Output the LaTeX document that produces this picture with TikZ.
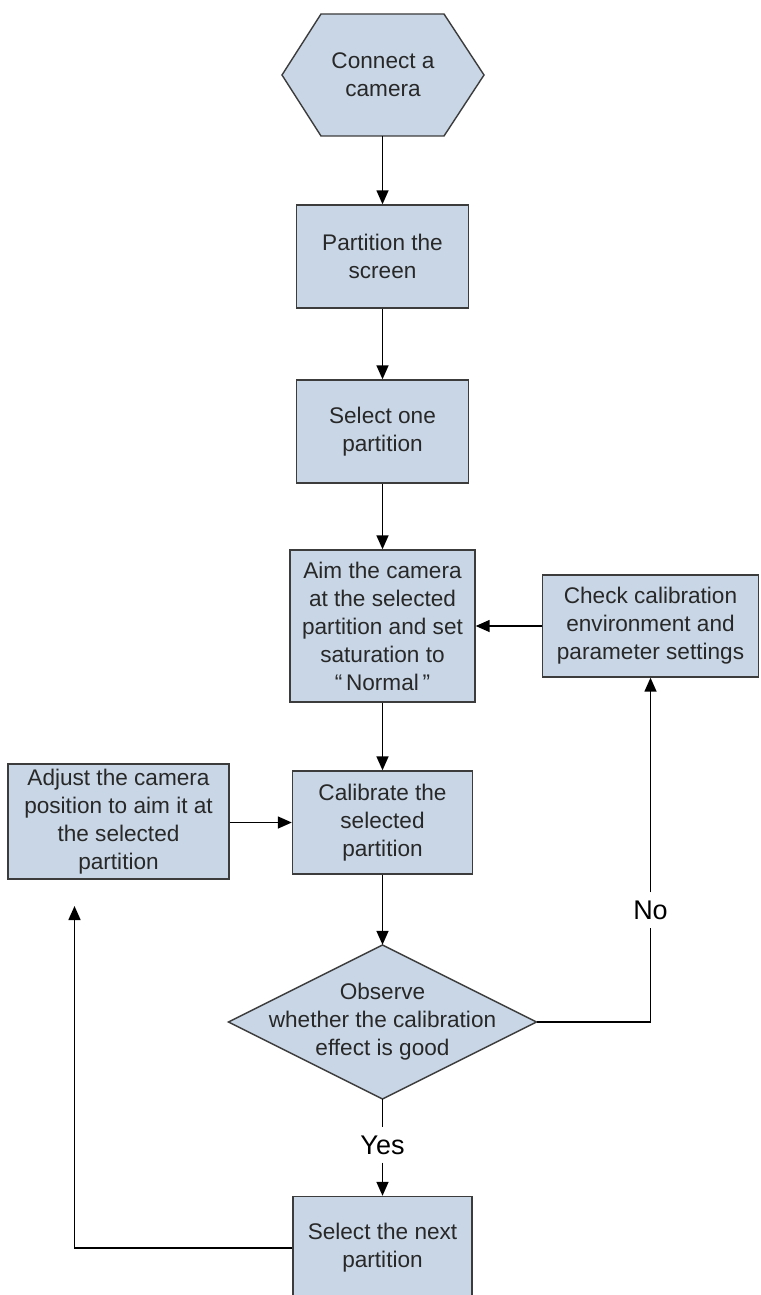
\documentclass[tikz,border=0pt]{standalone}
\usepackage{fontspec}
\setmainfont{Liberation Sans}
\usetikzlibrary{arrows.meta,calc}
\definecolor{boxfill}{RGB}{200,214,230}
\definecolor{boxline}{RGB}{60,60,60}
\definecolor{txt}{RGB}{40,40,40}
\begin{document}
\begin{tikzpicture}[x=1pt,y=-1pt,
  every node/.style={font=\fontsize{22.6}{28}\selectfont, text=txt},
  stepbox/.style={rectangle, draw=boxline, fill=boxfill, line width=1.4pt, align=center, inner sep=0pt},
  shapebox/.style={draw=boxline, fill=boxfill, line width=1.4pt},
  textarea/.style={rectangle, align=center, inner sep=0pt},
  lbl/.style={font=\fontsize{27}{30}\selectfont, text=black, inner sep=0pt, minimum height=35pt},
  conn/.style={line width=1.5pt, -{Triangle[width=12pt,length=14pt]}},
  plainline/.style={line width=1.5pt}
]
\useasboundingbox (0,0) rectangle (760,1295);
\clip (0,0) rectangle (760,1295);
\fill[white] (0,0) rectangle (760,1295);

% hexagon
\path[shapebox] (282,75) -- (321,14) -- (444,14) -- (484,75) -- (444,136) -- (321,136) -- cycle;
\node[textarea, minimum width=202pt, minimum height=122pt] (hex) at (383,75) {Connect a\\camera};

\node[stepbox, minimum width=172pt, minimum height=103pt] (part) at (382.5,256.5) {Partition the\\screen};
\node[stepbox, minimum width=172pt, minimum height=103pt] (sel) at (382.5,431.5) {Select one\\partition};
\node[stepbox, minimum width=185pt, minimum height=152pt] (aim) at (382.5,626) {Aim the camera\\at the selected\\partition and set\\saturation to\\“\,Normal\,”};
\node[stepbox, minimum width=216pt, minimum height=102pt] (check) at (650.5,626) {Check calibration\\environment and\\parameter settings};
\node[stepbox, minimum width=180pt, minimum height=103pt] (cal) at (382.5,822.5) {Calibrate the\\selected\\partition};
\node[stepbox, minimum width=221pt, minimum height=115pt] (adj) at (118.5,821.5) {Adjust the camera\\position to aim it at\\the selected\\partition};

% diamond
\path[shapebox] (382.5,945) -- (536.5,1022) -- (382.5,1099) -- (228.5,1022) -- cycle;
\node[textarea, minimum width=308pt, minimum height=154pt] (obs) at (382.5,1022) {Observe\\whether the calibration\\effect is good};

\node[stepbox, minimum width=179pt, minimum height=103pt] (next) at (382.5,1248) {Select the next\\partition};

% labels
\node[lbl] (yes) at (382.5,1145) {Yes};
\node[lbl] (no) at (650.5,910) {No};
\coordinate (ret) at (74.5,906);

% connectors
\draw[conn] (hex.south -| part.north) -- (part.north);
\draw[conn] (part.south) -- (sel.north);
\draw[conn] (sel.south) -- (aim.north);
\draw[conn] (aim.south) -- (cal.north);
\draw[conn] (cal.south) -- (obs.north);
\draw[conn] (check.west) -- (check.west -| aim.east);
\draw[conn] (adj.east |- cal.west) -- (cal.west);
\draw[plainline] (obs.east) -| (no.south);
\draw[conn] (no.north) -- (check.south);
\draw[plainline] (obs.south) -- (yes.north);
\draw[conn] (yes.south) -- (next.north);
\draw[conn] (next.west) -| (ret);
\end{tikzpicture}
\end{document}
